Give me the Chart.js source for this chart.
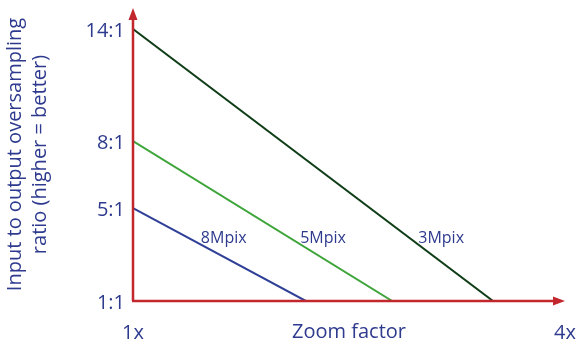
<!DOCTYPE html>
<html>
<head>
<meta charset="utf-8">
<script src="https://cdn.jsdelivr.net/npm/chart.js@4.4.0/dist/chart.umd.min.js"></script>
<style>
html,body{margin:0;padding:0;background:#fff;}
#wrap{width:580px;height:355px;position:relative;}
</style>
</head>
<body>
<div id="wrap"><canvas id="c" width="580" height="355"></canvas></div>
<script>
// ---- data ----
const seriesNames = ['3Mpix', '5Mpix', '8Mpix'];
const seriesColors = ['#0f3d17', '#3ea53a', '#2f3f98'];
const startRatioLevel = [14, 8.64, 5.44];   // drawn height of each line at 1x
const endZoom = [3.5, 2.8, 2.2];            // zoom where each line reaches 1:1
const yTickValues = [1, 5.44, 8.64, 14];
const yTickLabels = ['1:1', '5:1', '8:1', '14:1'];
const xTickValues = [1, 4];
const xTickLabels = ['1x', '4x'];
const xTitle = 'Zoom factor';
const yTitle = ['Input to output oversampling', 'ratio (higher = better)'];
const labelPos = [{x: 3.14, y: 4.0}, {x: 2.32, y: 4.0}, {x: 1.63, y: 4.0}];

const FONT = '"Open Sans", "Noto Sans", sans-serif';
const TEXT = '#2e3a8e';
const RED = '#c1272d';

const datasets = seriesNames.map((n, i) => ({
  label: n,
  data: [{x: 1, y: startRatioLevel[i]}, {x: endZoom[i], y: 1}],
  borderColor: seriesColors[i],
  borderWidth: 2,
  pointRadius: 0,
  tension: 0,
  fill: false
}));

const decor = {
  id: 'decor',
  afterDatasetsDraw(chart) {
    const ctx = chart.ctx;
    const xs = chart.scales.x, ys = chart.scales.y;
    const x0 = xs.getPixelForValue(1), y0 = ys.getPixelForValue(1);
    const yTop = chart.chartArea.top, xRight = chart.chartArea.right;
    ctx.save();
    ctx.strokeStyle = RED; ctx.fillStyle = RED; ctx.lineWidth = 2.5;
    ctx.beginPath();
    ctx.moveTo(x0, y0); ctx.lineTo(x0, yTop + 8);
    ctx.moveTo(x0 - 1, y0); ctx.lineTo(xRight - 8, y0);
    ctx.stroke();
    ctx.beginPath();
    ctx.moveTo(x0, yTop); ctx.lineTo(x0 - 4.5, yTop + 12); ctx.lineTo(x0 + 4.5, yTop + 12); ctx.closePath();
    ctx.fill();
    ctx.beginPath();
    ctx.moveTo(xRight, y0); ctx.lineTo(xRight - 12, y0 - 4.5); ctx.lineTo(xRight - 12, y0 + 4.5); ctx.closePath();
    ctx.fill();
    // series labels
    ctx.fillStyle = TEXT;
    ctx.font = '16px ' + FONT;
    ctx.textAlign = 'center'; ctx.textBaseline = 'middle';
    seriesNames.forEach((n, i) => {
      ctx.fillText(n, xs.getPixelForValue(labelPos[i].x), ys.getPixelForValue(labelPos[i].y));
    });
    // x title
    ctx.font = '20px ' + FONT;
    ctx.fillText(xTitle, (chart.chartArea.left + chart.chartArea.right) / 2, 332);
    ctx.restore();
  }
};

new Chart(document.getElementById('c'), {
  type: 'line',
  data: {datasets},
  options: {
    responsive: false,
    animation: false,
    layout: {padding: {top: 8, right: 15, left: 0, bottom: 0}},
    plugins: {legend: {display: false}, tooltip: {enabled: false}},
    scales: {
      x: {
        type: 'linear', min: 1, max: 4,
        grid: {display: false, drawTicks: false},
        border: {display: false},
        afterBuildTicks: s => { s.ticks = xTickValues.map(v => ({value: v})); },
        afterFit: s => { s.height = 54; s.paddingLeft = 0; s.paddingRight = 0; },
        ticks: {
          autoSkip: false, maxRotation: 0, padding: 20,
          color: TEXT, font: {family: FONT, size: 20},
          callback: v => xTickLabels[xTickValues.indexOf(v)]
        }
      },
      y: {
        type: 'linear', min: 1, max: 15,
        grid: {display: false, drawTicks: false},
        border: {display: false},
        afterBuildTicks: s => { s.ticks = yTickValues.map(v => ({value: v})); },
        afterFit: s => { s.width = 133; s.paddingTop = 0; s.paddingBottom = 0; },
        title: {
          display: true, text: yTitle, color: TEXT,
          font: {family: FONT, size: 20, lineHeight: 1.25}, padding: {top: 3, bottom: 0}
        },
        ticks: {
          autoSkip: false, padding: 8, labelOffset: 2,
          color: TEXT, font: {family: FONT, size: 20},
          callback: v => yTickLabels[yTickValues.indexOf(v)]
        }
      }
    }
  },
  plugins: [decor]
});
</script>
</body>
</html>
